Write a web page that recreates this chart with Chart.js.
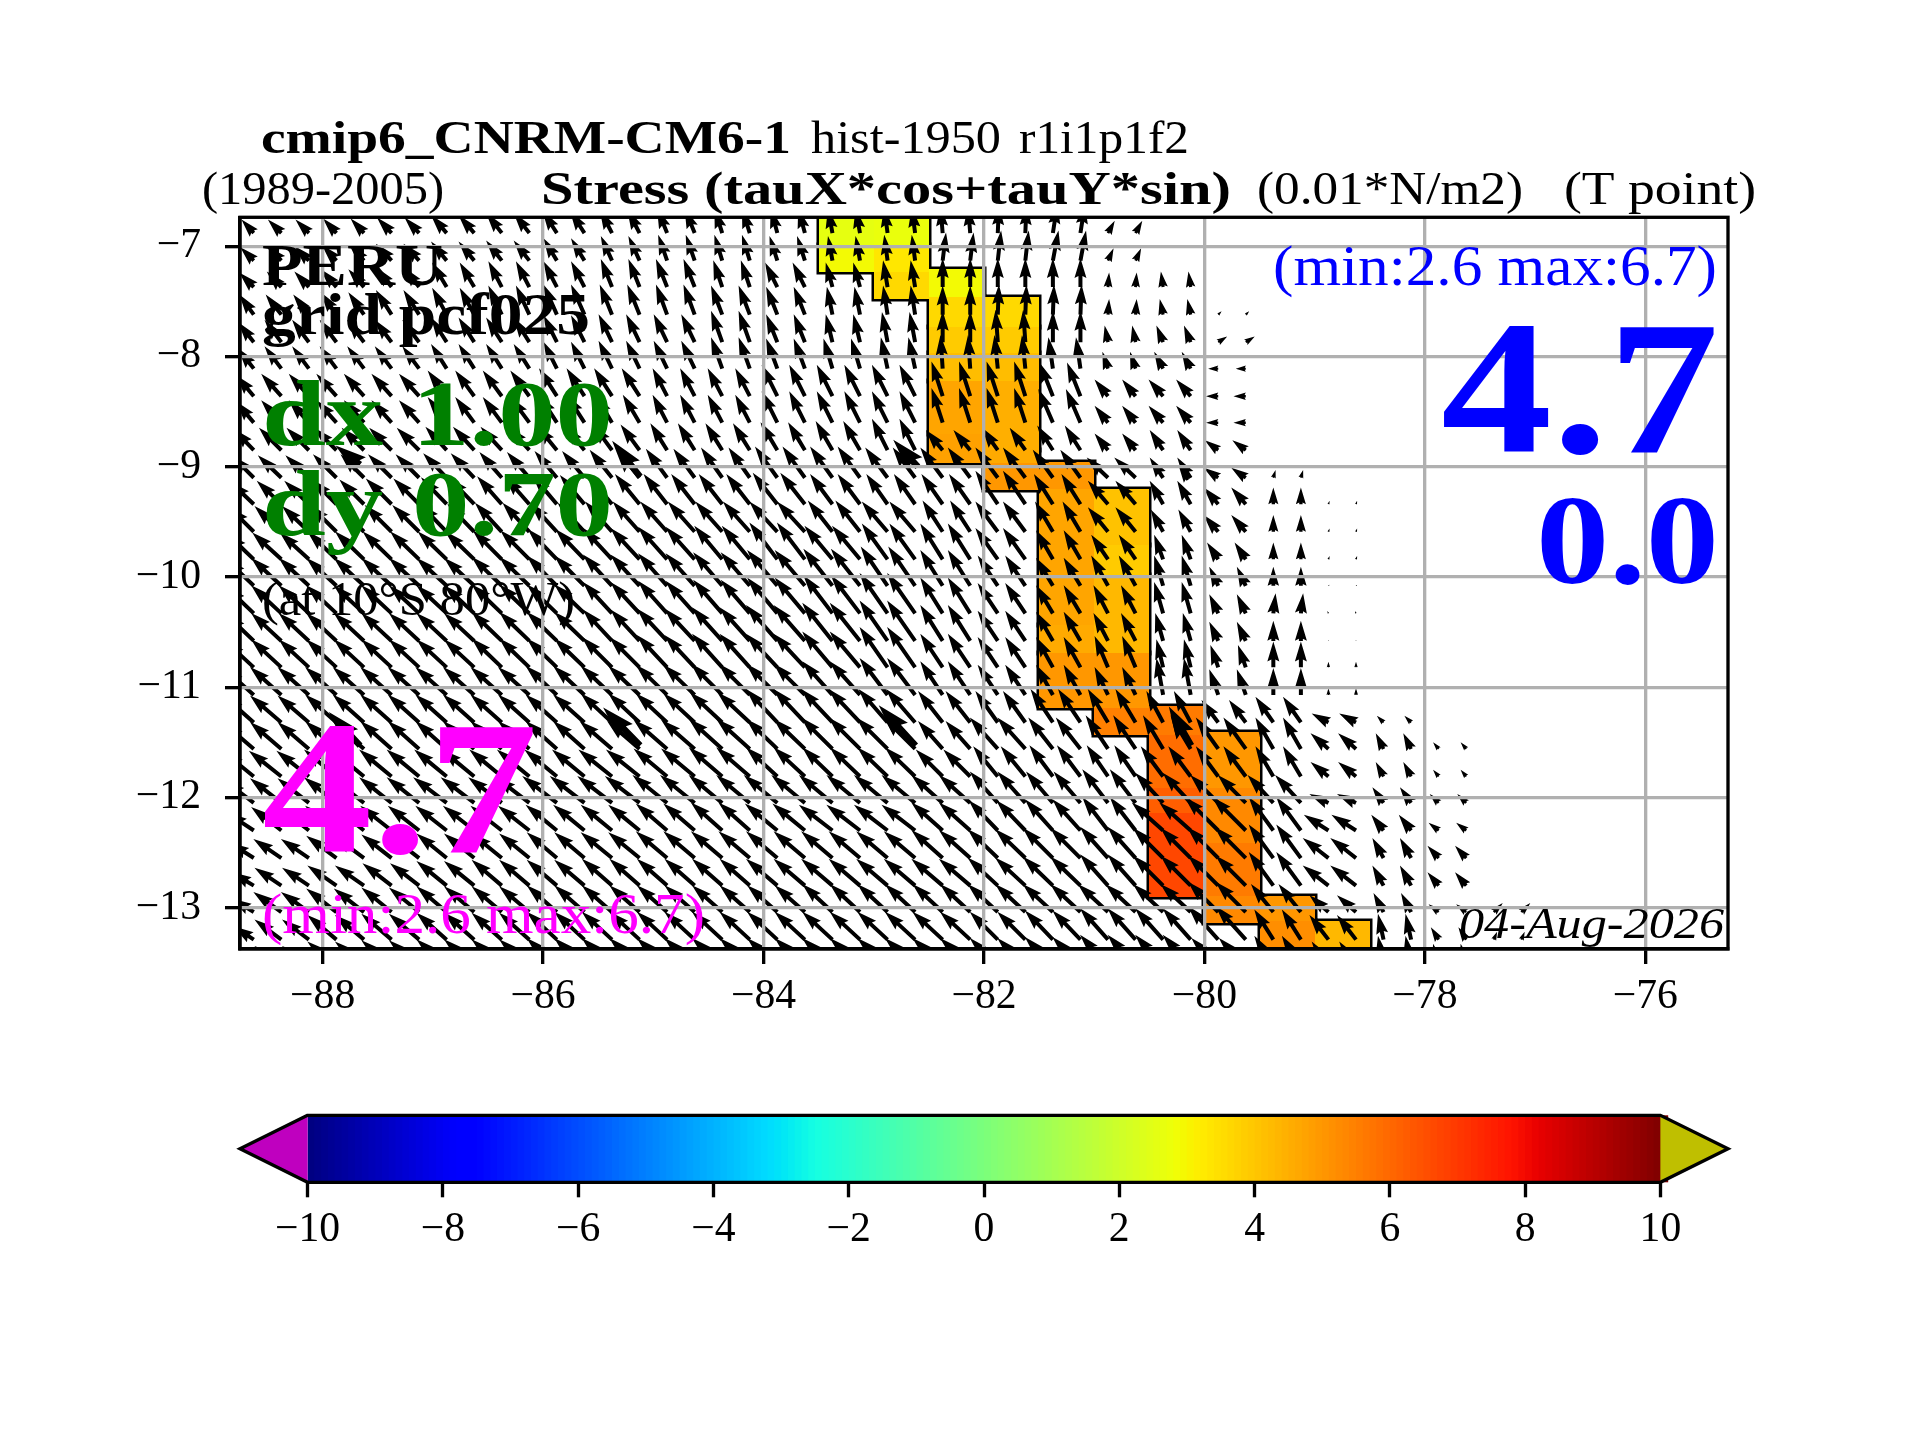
<!DOCTYPE html>
<html>
<head>
<meta charset="utf-8">
<title>Stress</title>
<script src="https://cdn.jsdelivr.net/npm/chart.js@4"></script>
<style>
    html, body { margin: 0; padding: 0; background: #fff; }
    canvas { position: absolute; left: 0; top: 0; }
</style>
</head>
<body>
<canvas id="mapChart" width="1920" height="1440"></canvas>
<canvas id="barChart" width="1920" height="1440"></canvas>
<script>
/** Data start */

const xTickValues = [-88, -86, -84, -82, -80, -78, -76];
const yTickValues = [-13, -12, -11, -10, -9, -8, -7];
const barTickValues = [-10, -8, -6, -4, -2, 0, 2, 4, 6, 8, 10];

// arrow tails, two columns per model block
const arrowLons = [-88.875, -88.625, -88.375, -88.125, -87.875, -87.625, -87.375, -87.125, -86.875, -86.625, -86.375, -86.125,
    -85.875, -85.625, -85.375, -85.125, -84.875, -84.625, -84.375, -84.125, -83.875, -83.625, -83.375, -83.125,
    -82.875, -82.625, -82.375, -82.125, -81.875, -81.625, -81.375, -81.125, -80.875, -80.625, -80.375, -80.125,
    -79.875, -79.625, -79.375, -79.125, -78.875, -78.625, -78.375, -78.125, -77.875, -77.625, -77.375, -77.125];
const arrowLats = [-6.88, -7.13, -7.37, -7.62, -7.87, -8.11, -8.36, -8.60, -8.85, -9.10, -9.34, -9.59, -9.84, -10.08,
    -10.33, -10.58, -10.82, -11.07, -11.32, -11.56, -11.81, -12.05, -12.30, -12.55, -12.80, -13.04, -13.29, -13.53];

// one row per latitude, one entry per block of two columns
const uRows = [
    [-11,-12,-12,-13,-14,-14,-13,-11,-9,-7,-6,-4,-3,-2,1,4,6,0,0,0,0,0,0,0],
    [-12,-13,-13,-14,-14,-14,-12,-10,-8,-7,-7,-4,-3,3,3,5,5,0,0,0,0,0,0,0],
    [-13,-13,-14,-14,-13,-12,-12,-10,-10,-8,-11,-6,-4,0,0,0,1,-2,0,0,0,0,0,0],
    [-13,-14,-14,-14,-13,-12,-12,-11,-10,-10,-10,-5,-4,0,1,1,1,-3,3,0,0,0,0,0],
    [-14,-15,-15,-15,-14,-14,-12,-12,-12,-10,-10,-6,-5,0,-2,0,-3,-6,8,0,0,0,0,0],
    [-14,-15,-15,-15,-14,-14,-12,-12,-12,-10,-10,-8,-6,-2,-3,-4,-5,-8,-9,0,0,0,0,0],
    [-16,-18,-18,-18,-17,-17,-16,-16,-13,-13,-14,-14,-14,-10,-10,-12,-12,-13,-11,0,0,0,0,0],
    [-16,-18,-18,-18,-17,-17,-16,-15,-13,-13,-14,-14,-14,-10,-10,-13,-12,-13,-11,0,0,0,0,0],
    [-18,-20,-20,-20,-19,-19,-18,-17,-15,-15,-15,-15,-14,-15,-14,-14,-12,-12,-12,0,0,0,0,0],
    [-20,-21,-21,-21,-21,-20,-20,-20,-19,-19,-20,-20,-20,-20,-20,-18,-19,-12,-13,2,0,0,0,0],
    [-21,-22,-22,-23,-23,-22,-22,-22,-21,-21,-22,-20,-19,-19,-20,-17,-18,-12,-13,0,1,0,0,0],
    [-22,-24,-24,-24,-24,-24,-24,-24,-24,-24,-25,-22,-23,-18,-20,-16,-18,-11,-13,0,1,0,0,0],
    [-24,-26,-26,-26,-26,-26,-26,-26,-26,-25,-25,-25,-23,-20,-20,-15,-15,-8,-10,0,1,0,0,0],
    [-25,-27,-27,-27,-27,-27,-27,-26,-26,-26,-27,-26,-24,-20,-18,-15,-15,-8,-8,0,1,0,0,0],
    [-25,-27,-27,-27,-27,-27,-27,-26,-26,-26,-27,-26,-25,-20,-18,-15,-13,-8,-8,2,-1,0,0,0],
    [-25,-27,-27,-27,-27,-27,-27,-26,-27,-27,-28,-27,-25,-20,-18,-15,-13,-7,-8,0,0,0,0,0],
    [-26,-27,-27,-27,-27,-27,-27,-27,-27,-27,-28,-27,-25,-20,-18,-15,-12,-6,-7,0,0,0,0,0],
    [-27,-28,-28,-28,-28,-28,-28,-28,-28,-28,-28,-27,-25,-20,-18,-15,-12,-6,-8,0,0,0,0,0],
    [-27,-28,-28,-28,-28,-28,-28,-28,-28,-29,-28,-28,-26,-22,-20,-20,-18,-15,-15,-16,-15,-6,0,0],
    [-27,-28,-28,-28,-28,-28,-28,-29,-30,-30,-28,-28,-28,-22,-25,-22,-20,-18,-20,-16,-16,-7,-5,0],
    [-27,-29,-29,-29,-29,-29,-29,-30,-30,-30,-28,-27,-27,-24,-22,-21,-19,-20,-20,-16,-16,-7,-5,0],
    [-26,-28,-29,-29,-30,-30,-31,-31,-31,-30,-30,-30,-30,-28,-25,-24,-23,-25,-25,-23,-17,-10,-8,0],
    [-24,-27,-28,-28,-28,-28,-28,-28,-28,-28,-29,-30,-30,-28,-26,-25,-23,-28,-30,-22,-22,-11,-9,0],
    [-22,-25,-27,-27,-27,-27,-27,-28,-28,-28,-28,-28,-28,-28,-27,-27,-25,-27,-28,-22,-23,-10,-10,0],
    [-20,-24,-26,-26,-27,-27,-27,-27,-27,-27,-28,-28,-28,-28,-27,-27,-25,-27,-27,-22,-23,-10,-10,0],
    [-20,-25,-27,-27,-27,-27,-27,-27,-27,-27,-27,-27,-27,-27,-27,-27,-27,-27,-27,-20,-17,-9,-9,8],
    [-18,-24,-26,-27,-27,-27,-27,-27,-27,-27,-27,-27,-27,-27,-25,-25,-25,-25,-27,-17,-17,-5,-7,3],
    [-18,-24,-26,-27,-27,-27,-27,-27,-27,-27,-27,-27,-27,-27,-25,-25,-25,-25,-24,-17,-15,-5,-5,0]
];
const vRows = [
    [12,12,13,14,16,18,20,21,22,22,22,22,23,24,25,26,11,0,0,0,0,0,0,0],
    [12,13,14,15,17,18,20,22,23,23,22,22,23,25,27,27,11,0,0,0,0,0,0,0],
    [13,14,16,18,22,23,23,25,25,24,22,22,24,26,26,26,13,14,0,0,0,0,0,0],
    [18,18,20,22,24,26,27,27,27,26,25,25,26,26,27,27,14,14,3,0,0,0,0,0],
    [18,20,20,20,22,22,24,25,25,28,25,25,27,28,29,28,15,15,5,0,0,0,0,0],
    [18,20,20,20,22,22,24,25,25,28,27,27,28,30,30,28,15,15,0,0,0,0,0,0],
    [19,20,20,20,23,23,25,25,25,25,28,28,28,31,31,30,15,15,0,0,0,0,0,0],
    [19,20,20,20,23,23,25,25,25,25,28,28,28,31,31,30,15,15,0,0,0,0,0,0],
    [19,20,20,20,21,21,22,23,24,24,25,26,28,18,20,22,15,18,9,0,0,0,0,0],
    [20,20,21,21,22,23,24,25,26,27,28,28,27,27,27,25,18,18,9,7,0,0,0,0],
    [20,21,22,23,24,25,26,27,27,27,28,27,27,27,30,27,21,21,15,15,3,0,0,0],
    [22,23,24,24,25,26,26,27,27,27,27,28,27,28,27,27,22,20,15,15,3,0,0,0],
    [23,24,25,25,25,26,27,28,29,30,33,30,32,32,28,26,22,22,15,15,3,0,0,0],
    [24,25,25,25,25,26,27,28,29,30,32,33,35,32,27,25,27,27,17,17,1,0,0,0],
    [24,25,25,25,25,26,26,28,29,30,32,34,36,32,27,25,25,28,17,18,2,0,0,0],
    [24,25,25,25,25,26,26,28,29,30,32,34,36,32,27,26,25,25,17,18,1,0,0,0],
    [24,25,25,25,25,26,26,27,29,30,30,32,36,30,27,27,28,25,20,23,5,0,0,0],
    [24,25,25,25,25,25,26,26,27,28,28,30,33,30,27,27,25,33,23,24,6,0,0,0],
    [24,24,25,25,25,25,25,26,26,27,30,30,30,28,28,30,30,28,20,23,8,6,0,0],
    [23,24,25,25,25,25,25,25,26,27,27,28,28,25,28,28,30,30,28,28,14,14,6,0],
    [22,23,24,24,24,24,24,24,25,26,26,26,26,24,27,28,28,27,27,27,13,13,6,0],
    [20,22,23,23,23,23,24,24,25,25,25,25,25,25,28,28,30,27,25,25,8,14,8,0],
    [16,21,22,22,22,22,23,23,24,25,24,23,23,25,27,28,30,25,30,30,14,14,7,0],
    [14,17,20,21,22,22,23,23,24,24,24,24,24,25,26,27,28,27,28,30,18,18,11,0],
    [12,16,18,20,22,23,23,24,24,24,24,24,24,24,25,26,28,27,27,30,18,18,12,0],
    [12,18,21,22,23,23,24,24,24,24,24,25,25,25,25,25,25,25,27,25,15,17,7,8],
    [12,18,22,23,24,24,25,25,25,25,25,25,25,25,25,26,28,28,30,27,22,23,11,7],
    [12,18,22,23,24,24,25,25,25,25,25,25,25,25,25,26,28,28,25,27,22,27,20,0]
];

// the few heavier arrows
const keyLons = [-87.66, -85.12, -82.60, -80.15, -87.66, -85.12, -82.62, -80.12];
const keyLats = [-8.98, -9.09, -9.00, -9.12, -11.53, -11.53, -11.53, -11.53];
const keyU = [-22, -25, -22, -8, -28, -33, -33, -20];
const keyV = [17, 32, 24, 12, 30, 34, 36, 35];

// coastal cells, west edge plus top and bottom latitude
const cellLons = [-83.5, -83.5, -83, -83, -83, -82.5, -82.5, -82.5, -82.5, -82.5, -82.5, -82, -82, -82, -82, -82, -82,
    -81.5, -81.5, -81.5, -81.5, -81, -81, -81, -81, -81, -80.5, -80.5, -80.5, -80.5, -80, -80, -80, -80, -79.5, -79.5, -79];
const cellTops = [-6.74, -6.99, -6.74, -6.99, -7.23, -7.21, -7.46, -7.73, -7.97, -8.22, -8.70, -7.46, -7.73, -7.97, -8.22, -8.85, -8.97,
    -8.96, -9.20, -10.44, -10.69, -9.20, -9.71, -9.98, -10.69, -11.19, -11.17, -11.43, -11.91, -12.14, -11.41, -11.91, -12.41, -12.89, -12.89, -13.12, -13.12];
const cellBottoms = [-6.99, -7.23, -6.99, -7.23, -7.48, -7.46, -7.73, -7.97, -8.22, -8.70, -8.97, -7.73, -7.97, -8.22, -8.85, -8.97, -9.21,
    -9.20, -10.44, -10.69, -11.19, -9.71, -9.98, -10.69, -11.19, -11.43, -11.43, -11.91, -12.14, -12.90, -11.91, -12.41, -12.89, -13.14, -13.12, -13.375, -13.375];
const cellValues = [2.6, 2.9, 2.7, 3.3, 3.6, 2.9, 3.6, 3.9, 4.2, 4.7, 4.8, 3.6, 3.9, 4.2, 4.5, 4.6, 5.0,
    5.0, 4.7, 4.6, 5.0, 4.1, 3.9, 4.3, 5.0, 5.5, 5.6, 5.9, 6.2, 6.7, 5.0, 5.3, 5.6, 5.3, 5.0, 5.2, 4.3];

/** Data end */

const serif = '"Liberation Serif"';
const axisFont = { family: serif, size: 41.67 };
const minus = '\u2212';

// matplotlib jet, -10 to 10
function jet(value) {
    const t = Math.min(1, Math.max(0, (value + 10) / 20));
    const ramp = (points) => {
        for (let i = 1; i < points.length; i++) {
            if (t <= points[i][0]) {
                const a = points[i - 1], b = points[i];
                return a[1] + (b[1] - a[1]) * (t - a[0]) / (b[0] - a[0]);
            }
        }
        return points[points.length - 1][1];
    };
    const r = ramp([[0, 0], [0.35, 0], [0.66, 1], [0.89, 1], [1, 0.5]]);
    const g = ramp([[0, 0], [0.125, 0], [0.375, 1], [0.64, 1], [0.91, 0], [1, 0]]);
    const b = ramp([[0, 0.5], [0.11, 1], [0.34, 1], [0.65, 0], [1, 0]]);
    return 'rgb(' + Math.round(r * 255) + ',' + Math.round(g * 255) + ',' + Math.round(b * 255) + ')';
}

function tickLabel(value) {
    return value < 0 ? minus + Math.abs(value) : String(value);
}

// same arrow outline as a matplotlib quiver, shrinks to a bare head when short
function drawArrow(ctx, x, y, u, v, width) {
    const length = 1.12 * Math.hypot(u, v) / width;
    if (length === 0) return;
    const headWidth = 3, headLength = 5, headAxis = 4.5;
    let xs, ys;
    if (length < headLength) {
        const s = length / headLength;
        xs = [0, (headLength - headAxis) * s, 0, headLength * s, 0, (headLength - headAxis) * s, 0];
        ys = [0.5 * s, 0.5 * s, 0.5 * headWidth * s, 0, -0.5 * headWidth * s, -0.5 * s, -0.5 * s];
    } else {
        xs = [0, length - headAxis, length - headLength, length, length - headLength, length - headAxis, 0];
        ys = [0.5, 0.5, 0.5 * headWidth, 0, -0.5 * headWidth, -0.5, -0.5];
    }
    const angle = Math.atan2(-v, u);
    const c = Math.cos(angle) * width, s2 = Math.sin(angle) * width;
    ctx.beginPath();
    for (let i = 0; i < xs.length; i++) {
        const px = x + xs[i] * c - ys[i] * s2;
        const py = y + xs[i] * s2 + ys[i] * c;
        if (i === 0) ctx.moveTo(px, py); else ctx.lineTo(px, py);
    }
    ctx.closePath();
    ctx.fill();
}

// text squeezed to the width it has in the picture
function fitText(ctx, text, x, y, width, font, color) {
    ctx.save();
    ctx.font = font;
    ctx.fillStyle = color;
    ctx.textAlign = 'left';
    ctx.textBaseline = 'alphabetic';
    const natural = ctx.measureText(text).width;
    ctx.translate(x, y);
    ctx.scale(width / natural, 1);
    ctx.fillText(text, 0, 0);
    ctx.restore();
}

const cellsPlugin = {
    id: 'cells',
    beforeDatasetsDraw(chart) {
        const { ctx, chartArea, scales } = chart;
        ctx.save();
        ctx.beginPath();
        ctx.rect(chartArea.left, chartArea.top, chartArea.right - chartArea.left, chartArea.bottom - chartArea.top);
        ctx.clip();
        const boxes = cellLons.map((lon, i) => {
            const left = Math.round(scales.x.getPixelForValue(lon));
            const right = Math.round(scales.x.getPixelForValue(lon + 0.5));
            const top = Math.round(scales.y.getPixelForValue(cellTops[i]));
            const bottom = Math.round(scales.y.getPixelForValue(cellBottoms[i]));
            return [left, top, right - left, bottom - top];
        });
        // wide black stroke first, the fills leave only the outer half of it
        ctx.strokeStyle = '#000';
        ctx.lineWidth = 5;
        boxes.forEach((b) => ctx.strokeRect(b[0], b[1], b[2], b[3]));
        boxes.forEach((b, i) => {
            ctx.fillStyle = jet(cellValues[i]);
            ctx.fillRect(b[0], b[1], b[2], b[3]);
        });
        ctx.restore();
    }
};

const arrowsPlugin = {
    id: 'arrows',
    afterDatasetsDraw(chart) {
        const { ctx, chartArea } = chart;
        ctx.save();
        ctx.beginPath();
        ctx.rect(chartArea.left, chartArea.top, chartArea.right - chartArea.left, chartArea.bottom - chartArea.top);
        ctx.clip();
        ctx.fillStyle = '#000';
        const field = chart.getDatasetMeta(0).data;
        field.forEach((point, i) => {
            const row = chart.data.datasets[0].data[i];
            drawArrow(ctx, point.x, point.y, row.u, row.v, 4);
        });
        chart.getDatasetMeta(1).data.forEach((point, i) => {
            drawArrow(ctx, point.x, point.y, keyU[i], keyV[i], 6.5);
        });
        ctx.restore();
    }
};

const labelsPlugin = {
    id: 'labels',
    afterDraw(chart) {
        const { ctx, chartArea } = chart;
        ctx.save();
        ctx.strokeStyle = '#000';
        ctx.lineWidth = 3.33;
        ctx.strokeRect(chartArea.left, chartArea.top, chartArea.right - chartArea.left, chartArea.bottom - chartArea.top);
        ctx.restore();

        const bold47 = 'bold 47px ' + serif, reg47 = '47px ' + serif;
        fitText(ctx, 'cmip6_CNRM-CM6-1', 261, 153, 530, bold47, '#000');
        fitText(ctx, 'hist-1950', 811, 153, 190, reg47, '#000');
        fitText(ctx, 'r1i1p1f2', 1019, 153, 170, reg47, '#000');
        fitText(ctx, '(1989-2005)', 202, 204, 242, reg47, '#000');
        fitText(ctx, 'Stress (tauX*cos+tauY*sin)', 541, 204, 690, bold47, '#000');
        fitText(ctx, '(0.01*N/m2)', 1257, 204, 266, reg47, '#000');
        fitText(ctx, '(T point)', 1564, 204, 192, reg47, '#000');

        fitText(ctx, 'PERU', 262, 285, 181, 'bold 60px ' + serif, '#000');
        fitText(ctx, 'grid pcf025', 262, 334, 328, 'bold 60px ' + serif, '#000');
        fitText(ctx, 'dx 1.00', 262, 445, 351, 'bold 94px ' + serif, '#008000');
        fitText(ctx, 'dy 0.70', 262, 535, 351, 'bold 94px ' + serif, '#008000');
        fitText(ctx, '(at 10\u00b0S 80\u00b0W)', 262, 615, 313, '48px ' + serif, '#000');
        fitText(ctx, '4.7', 262, 852, 276, 'bold 190px ' + serif, '#ff00ff');
        fitText(ctx, '(min:2.6 max:6.7)', 262, 933, 443, '57px ' + serif, '#ff00ff');

        fitText(ctx, '(min:2.6 max:6.7)', 1273, 285, 444, '57px ' + serif, '#0000ff');
        fitText(ctx, '4.7', 1441, 452, 278, 'bold 190px ' + serif, '#0000ff');
        fitText(ctx, '0.0', 1536, 583, 183, 'bold 128px ' + serif, '#0000ff');
        fitText(ctx, '04-Aug-2026', 1459, 938, 265, 'italic 45px ' + serif, '#000');
    }
};

const fieldPoints = [];
arrowLats.forEach((lat, r) => {
    arrowLons.forEach((lon, c) => {
        const block = Math.floor(c / 2);
        fieldPoints.push({ x: lon, y: lat, u: uRows[r][block], v: vRows[r][block] });
    });
});

const mapConfig = {
    type: 'scatter',
    data: {
        datasets: [
            { label: 'Stress', data: fieldPoints, pointRadius: 0, clip: false },
            { label: 'Key', data: keyLons.map((lon, i) => ({ x: lon, y: keyLats[i] })), pointRadius: 0 }
        ]
    },
    options: {
        responsive: false,
        devicePixelRatio: 1,
        animation: false,
        events: [],
        layout: { padding: { top: 217.3, right: 192, left: 0, bottom: 0 } },
        plugins: { legend: { display: false }, tooltip: { enabled: false } },
        scales: {
            x: {
                type: 'linear',
                min: -88.75,
                max: -75.25,
                afterBuildTicks: (scale) => { scale.ticks = xTickValues.map((v) => ({ value: v })); },
                afterFit: (scale) => { scale.height = 491; },
                ticks: { font: axisFont, color: '#000', padding: 8, maxRotation: 0, autoSkip: false, callback: tickLabel },
                grid: { color: '#b0b0b0', lineWidth: 3.33, tickColor: '#000', tickWidth: 3.33, tickLength: 15, z: 1 },
                border: { color: '#000', width: 3.33, z: 2 }
            },
            y: {
                type: 'linear',
                min: -13.375,
                max: -6.737,
                afterBuildTicks: (scale) => { scale.ticks = yTickValues.map((v) => ({ value: v })); },
                afterFit: (scale) => { scale.width = 240; },
                ticks: { font: axisFont, color: '#000', padding: 24, autoSkip: false, callback: tickLabel },
                grid: { color: '#b0b0b0', lineWidth: 3.33, tickColor: '#000', tickWidth: 3.33, tickLength: 15, z: 1 },
                border: { color: '#000', width: 3.33, z: 2 }
            }
        }
    },
    plugins: [cellsPlugin, arrowsPlugin, labelsPlugin]
};

// Render the map
const mapChart = new Chart(document.getElementById('mapChart'), mapConfig);

const colorBarPlugin = {
    id: 'colorBar',
    beforeDatasetsDraw(chart) {
        const { ctx, chartArea, scales } = chart;
        const top = chartArea.top, bottom = chartArea.bottom, mid = (top + bottom) / 2;
        const left = chartArea.left, right = chartArea.right;
        for (let level = -10; level < 10; level += 0.1) {
            const x0 = scales.x.getPixelForValue(level);
            const x1 = scales.x.getPixelForValue(level + 0.1);
            ctx.fillStyle = jet(level + 0.05);
            ctx.fillRect(x0, top, x1 - x0 + 1, bottom - top);
        }
        ctx.fillStyle = '#bf00bf';
        ctx.beginPath();
        ctx.moveTo(left, top);
        ctx.lineTo(240, mid);
        ctx.lineTo(left, bottom);
        ctx.closePath();
        ctx.fill();
        ctx.fillStyle = '#bfbf00';
        ctx.beginPath();
        ctx.moveTo(right, top);
        ctx.lineTo(1728, mid);
        ctx.lineTo(right, bottom);
        ctx.closePath();
        ctx.fill();
        ctx.strokeStyle = '#000';
        ctx.lineWidth = 3.33;
        ctx.beginPath();
        ctx.moveTo(left, top);
        ctx.lineTo(240, mid);
        ctx.lineTo(left, bottom);
        ctx.lineTo(right, bottom);
        ctx.lineTo(1728, mid);
        ctx.lineTo(right, top);
        ctx.closePath();
        ctx.stroke();
    }
};

const barConfig = {
    type: 'scatter',
    data: { datasets: [{ label: 'Scale', data: barTickValues.map((v) => ({ x: v, y: 0 })), pointRadius: 0 }] },
    options: {
        responsive: false,
        devicePixelRatio: 1,
        animation: false,
        events: [],
        layout: { padding: { top: 1115.3, left: 307.6, right: 259.6, bottom: 0 } },
        plugins: { legend: { display: false }, tooltip: { enabled: false } },
        scales: {
            x: {
                type: 'linear',
                min: -10,
                max: 10,
                afterBuildTicks: (scale) => { scale.ticks = barTickValues.map((v) => ({ value: v })); },
                afterFit: (scale) => { scale.height = 257.7; },
                ticks: { font: axisFont, color: '#000', padding: 8, maxRotation: 0, autoSkip: false, callback: tickLabel },
                grid: { display: true, drawOnChartArea: false, tickColor: '#000', tickWidth: 3.33, tickLength: 15 },
                border: { display: false }
            },
            y: { display: false, min: -1, max: 1 }
        }
    },
    plugins: [colorBarPlugin]
};

// Render the colour bar
const barChart = new Chart(document.getElementById('barChart'), barConfig);
</script>
</body>
</html>
